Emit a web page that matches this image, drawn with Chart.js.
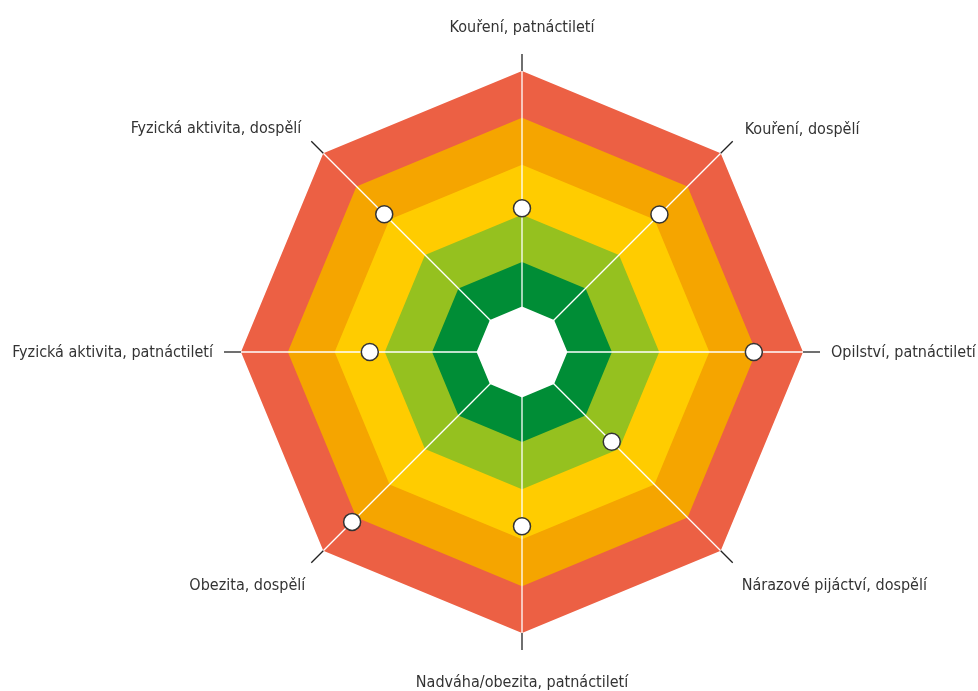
<!DOCTYPE html>
<html>
<head>
<meta charset="utf-8">
<script src="https://cdn.jsdelivr.net/npm/chart.js@4/dist/chart.umd.min.js"></script>
<style>
  html, body { margin: 0; padding: 0; background: #fff; }
  canvas { display: block; }
</style>
</head>
<body>
<canvas id="chart" width="978" height="691"></canvas>
<script>
// axes, clockwise from the top
const categories = [
  "Kouření, patnáctiletí",
  "Kouření, dospělí",
  "Opilství, patnáctiletí",
  "Nárazové pijáctví, dospělí",
  "Nadváha/obezita, patnáctiletí",
  "Obezita, dospělí",
  "Fyzická aktivita, patnáctiletí",
  "Fyzická aktivita, dospělí"
];

// position of each indicator (0 = centre, 6 = outer edge)
const scores = [3.07, 4.15, 4.95, 2.71, 3.72, 5.13, 3.25, 4.16];

// outer edge of each coloured band, innermost first
const bandLimits = [0.97, 1.92, 2.93, 4, 5, 6];
const bandColors = ["#ffffff", "#008d36", "#95c11f", "#ffcc00", "#f5a500", "#ec6044"];

// white spokes over the bands, short black ticks outside, and the labels
const spokesAndLabels = {
  id: "spokesAndLabels",
  beforeDatasetDraw(chart, args) {
    if (args.index !== 0) return;
    const scale = chart.scales.r;
    const ctx = chart.ctx;
    const outer = scale.drawingArea;
    ctx.save();
    categories.forEach((c, i) => {
      const p0 = scale.getPointPosition(i, 0);
      const p1 = scale.getPointPosition(i, outer);
      const p2 = scale.getPointPosition(i, outer + 17);
      ctx.lineWidth = 1.3;
      ctx.strokeStyle = "#ffffff";
      ctx.beginPath();
      ctx.moveTo(p0.x, p0.y);
      ctx.lineTo(p1.x, p1.y);
      ctx.stroke();
      ctx.strokeStyle = "#222222";
      ctx.beginPath();
      ctx.moveTo(p1.x, p1.y);
      ctx.lineTo(p2.x, p2.y);
      ctx.stroke();
    });
    ctx.restore();
  },
  afterDraw(chart) {
    const scale = chart.scales.r;
    const ctx = chart.ctx;
    const outer = scale.drawingArea;
    // [dx, dy, align, baseline] relative to the end of each tick
    const place = [
      [0, -22, "center", "alphabetic"],
      [12, -7, "left", "alphabetic"],
      [11, 1, "left", "middle"],
      [9, 27, "left", "alphabetic"],
      [0, 37, "center", "alphabetic"],
      [-6, 27, "right", "alphabetic"],
      [-11, 1, "right", "middle"],
      [-10, -8, "right", "alphabetic"]
    ];
    ctx.save();
    ctx.fillStyle = "#333333";
    ctx.font = "16px 'Liberation Sans Narrow', 'DejaVu Sans Condensed', sans-serif";
    categories.forEach((c, i) => {
      const p = scale.getPointPosition(i, outer + 17);
      const [dx, dy, align, base] = place[i];
      ctx.textAlign = align;
      ctx.textBaseline = base;
      ctx.fillText(c, p.x + dx, p.y + dy);
    });
    ctx.restore();
  }
};

const bandSets = bandLimits.map((v, k) => ({
  data: categories.map(() => v),
  backgroundColor: bandColors[k],
  borderWidth: 0,
  pointRadius: 0,
  fill: "origin"
}));

new Chart(document.getElementById("chart"), {
  type: "radar",
  data: {
    labels: categories,
    datasets: [
      {
        data: scores,
        showLine: false,
        fill: false,
        borderWidth: 0,
        pointRadius: 8.5,
        pointBorderWidth: 1.5,
        pointBackgroundColor: "#ffffff",
        pointBorderColor: "#333333"
      },
      ...bandSets
    ]
  },
  options: {
    responsive: false,
    animation: false,
    layout: { padding: { left: 241, right: 175, top: 71, bottom: 58 } },
    plugins: { legend: { display: false }, tooltip: { enabled: false } },
    elements: { line: { tension: 0 } },
    scales: {
      r: {
        min: 0,
        max: 6,
        ticks: { display: false },
        grid: { display: false },
        angleLines: { display: false },
        pointLabels: { display: false }
      }
    }
  },
  plugins: [spokesAndLabels]
});
</script>
</body>
</html>
